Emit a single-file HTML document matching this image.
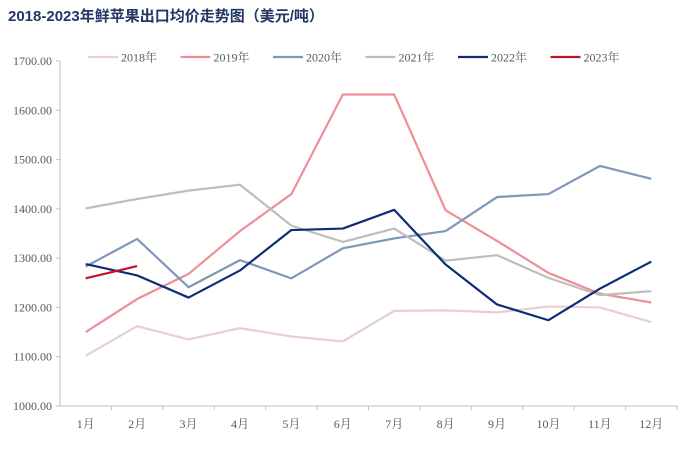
<!DOCTYPE html>
<html><head><meta charset="utf-8"><style>
body{margin:0;background:#fff;}
svg{display:block;font-family:"Liberation Serif","Noto Serif CJK SC",serif;}
</style></head><body>
<svg id="c" width="700" height="450" viewBox="0 0 700 450">
<text x="8" y="21" font-family="Liberation Sans, Noto Sans CJK SC, sans-serif" font-weight="bold" font-size="15" fill="#1f3864">2018-2023年鲜苹果出口均价走势图（美元/吨）</text>
<g id="axes"></g><g id="series"></g><g id="legend"></g>
</svg>
<script>
const months=["1月","2月","3月","4月","5月","6月","7月","8月","9月","10月","11月","12月"];
const yTicks=[1000,1100,1200,1300,1400,1500,1600,1700];
const years=["2018年","2019年","2020年","2021年","2022年","2023年"];
const colors=["#e8cfcf","#ee8e97","#7f97b8","#bdbdbd","#0e2c78","#c0142a"];
const s2018=[1102,1162,1135,1158,1141,1131,1193,1194,1190,1202,1200,1170];
const s2019=[1150,1217,1268,1355,1430,1632,1632,1397,1335,1270,1228,1210];
const s2020=[1283,1339,1241,1296,1259,1320,1340,1355,1424,1430,1487,1461];
const s2021=[1401,1420,1437,1449,1366,1333,1360,1295,1306,1260,1225,1233];
const s2022=[1288,1265,1220,1275,1357,1360,1398,1287,1206,1174,1238,1293];
const s2023=[1259,1284];
const series=[s2018,s2019,s2020,s2021,s2022,s2023];
const X0=60,X1=677,Y0=406,Y1=61,ymin=1000,ymax=1700;
const bw=(X1-X0)/months.length;
const x=i=>X0+bw*(i+0.5);
const y=v=>Y0-(v-ymin)/(ymax-ymin)*(Y0-Y1);
const NS="http://www.w3.org/2000/svg";
function mk(t,a,p){const e=document.createElementNS(NS,t);for(const k in a)e.setAttribute(k,a[k]);p.appendChild(e);return e;}
const ax=document.getElementById('axes');
let e=mk('line',{x1:X0,y1:Y1,x2:X0,y2:Y0,stroke:"#bfbfbf","stroke-width":1},ax);


e=mk('line',{x1:X0,y1:Y0,x2:X1,y2:Y0,stroke:"#bfbfbf","stroke-width":1},ax);


yTicks.forEach(v=>{
 mk('line',{x1:X0-4,y1:y(v),x2:X0,y2:y(v),stroke:"#bfbfbf"},ax);
 const t=mk('text',{x:X0-8,y:y(v)+4,"text-anchor":"end","font-size":12,fill:"#595959"},ax);
 t.textContent=v.toFixed(2);
 
 
});
months.forEach((m,i)=>{
 mk('line',{x1:X0+bw*(i+1),y1:Y0,x2:X0+bw*(i+1),y2:Y0+4,stroke:"#bfbfbf"},ax);
 const t=mk('text',{x:x(i),y:Y0+22,"text-anchor":"middle","font-size":12,fill:"#595959"},ax);
 t.textContent=m;
 
 
});
const sg=document.getElementById('series');
series.forEach((s,k)=>{
 const p=mk('polyline',{points:s.map((v,i)=>x(i)+","+y(v)).join(" "),fill:"none",stroke:colors[k],"stroke-width":2.2,"stroke-linejoin":"round"},sg);
 
 
});
const lg=document.getElementById('legend');
years.forEach((n,k)=>{
 const lx=88+k*92.5;
 const g=mk('g',{},lg);
 
 
 mk('line',{x1:lx,y1:57,x2:lx+30,y2:57,stroke:colors[k],"stroke-width":2.2},g);
 const t=mk('text',{x:lx+33,y:61.5,"font-size":12,fill:"#595959"},g);
 t.textContent=n;
});
</script>
</body></html>
